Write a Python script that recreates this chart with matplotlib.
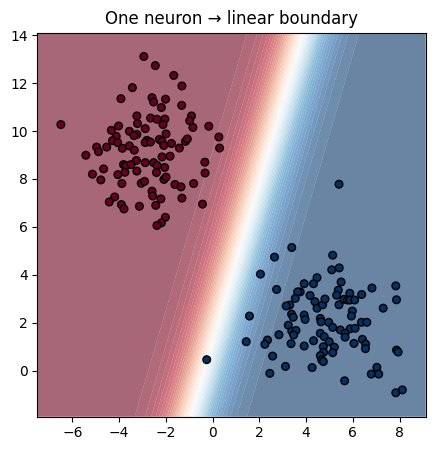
import numpy as np
import matplotlib
matplotlib.use("Agg")
import matplotlib.pyplot as plt

# class 0 (red cluster)
red_x = [-2.94, -2.45, -1.66, -1.31, -3.43, -3.92, -2.59, -2.52, -2.01, -2.19,
         -1.32, -6.49, -3.24, -3.21, -2.65, -2.38, -2.04, -2.12, -0.90, -0.98,
         -0.84, -0.16, -4.02, -4.33, -3.56, -3.24, -2.88, -1.99, -4.12, -4.28,
         -4.06, -3.36, -2.81, -2.88, -2.66, -2.28, -2.16, -2.09, -1.76, -1.16,
         -1.08, -1.42, 0.27, 0.30, -4.96, -4.88, -4.53, -3.86, -3.56, -3.35,
         -5.42, -2.16, -1.82, -3.26, -3.81, -3.71, -3.49, -2.88, -2.52, -2.38,
         -2.05, -4.66, -5.14, -4.78, -4.05, -3.75, -3.24, -2.40, -2.08, -1.99,
         -3.88, -3.05, -2.91, -1.61, -1.35, -0.81, -0.33, -0.32, -2.59, -2.56,
         -2.21, -4.19, -4.42, -3.90, -3.79, -3.13, -2.43, -1.31, -0.43, -2.02,
         -2.19, -2.38]
red_y = [13.11, 12.73, 12.32, 11.88, 11.81, 11.35, 11.39, 11.21, 11.33, 10.98,
         11.07, 10.27, 10.63, 10.31, 10.54, 10.49, 10.50, 10.27, 10.63, 10.43,
         10.15, 10.20, 10.21, 10.03, 9.99, 9.86, 10.10, 9.88, 9.78, 9.60,
         9.52, 9.81, 9.61, 9.52, 9.54, 9.65, 9.57, 9.40, 9.48, 9.57,
         9.67, 9.29, 9.75, 9.29, 9.33, 9.14, 9.33, 9.28, 9.38, 9.20,
         8.99, 8.92, 8.95, 8.77, 8.60, 8.56, 8.60, 8.68, 8.68, 8.57,
         8.48, 8.42, 8.20, 7.96, 8.18, 8.28, 8.33, 8.27, 7.98, 8.08,
         7.81, 7.82, 7.90, 7.77, 7.67, 7.81, 8.70, 8.25, 7.49, 7.29,
         7.17, 7.25, 7.04, 6.93, 6.75, 6.86, 6.90, 7.20, 6.95, 6.40,
         6.17, 6.06]

# class 1 (blue cluster)
blue_x = [5.41, 3.39, 2.65, 2.05, 2.74, 1.58, 1.44, -0.25, 5.14, 5.42,
          5.10, 4.47, 4.32, 3.92, 5.50, 6.82, 7.84, 7.87, 7.30, 3.75,
          3.64, 3.54, 4.17, 3.30, 3.15, 4.38, 4.47, 4.71, 4.81, 5.38,
          5.31, 5.41, 5.62, 5.77, 5.87, 5.88, 6.08, 6.38, 5.98, 5.94,
          3.38, 3.45, 3.92, 3.96, 4.61, 4.64, 4.97, 5.14, 5.47, 5.89,
          6.10, 6.37, 6.60, 3.24, 3.39, 3.57, 3.47, 2.84, 4.61, 4.78,
          5.67, 5.67, 6.05, 6.41, 6.55, 6.54, 3.36, 3.92, 4.32, 4.74,
          4.99, 5.21, 5.14, 4.75, 4.61, 4.67, 4.74, 2.35, 2.24, 2.57,
          3.12, 4.26, 2.45, 5.65, 6.79, 7.03, 7.11, 7.87, 7.94, 7.84,
          8.12]
blue_y = [7.78, 5.14, 4.74, 4.03, 3.39, 2.28, 1.21, 0.46, 4.82, 4.29,
          4.21, 3.88, 3.63, 3.63, 3.70, 3.45, 3.54, 2.96, 2.61, 3.29,
          3.29, 3.02, 3.14, 2.74, 2.70, 2.88, 2.61, 2.75, 2.99, 3.36,
          3.15, 2.75, 2.98, 2.95, 3.23, 2.95, 2.95, 3.18, 2.49, 2.28,
          2.36, 2.23, 2.32, 2.14, 2.18, 2.04, 2.02, 1.81, 1.70, 1.75,
          1.77, 2.02, 2.02, 1.90, 1.65, 1.68, 1.49, 1.50, 1.56, 1.42,
          1.56, 1.40, 1.14, 1.31, 1.11, 0.92, 1.13, 1.03, 1.25, 1.00,
          1.21, 0.98, 0.75, 0.77, 0.63, 0.45, 0.38, 1.28, 1.10, 0.61,
          0.18, 0.13, -0.11, -0.42, -0.14, 0.14, -0.14, 0.86, 0.78, -0.92,
          -0.80]

# single neuron weights (sigmoid output)
w1, w2, bias = 1.62, -0.486, 0.573

X = np.column_stack([red_x + blue_x, red_y + blue_y])
labels = np.array([0] * len(red_x) + [1] * len(blue_x))

x_min, x_max = X[:, 0].min() - 1, X[:, 0].max() + 1
y_min, y_max = X[:, 1].min() - 1, X[:, 1].max() + 1
xx, yy = np.meshgrid(np.linspace(x_min, x_max, 400), np.linspace(y_min, y_max, 400))
zz = 1 / (1 + np.exp(-(w1 * xx + w2 * yy + bias)))

fig = plt.figure(figsize=(4.34, 4.51), dpi=100)
ax = fig.add_axes([0.0864, 0.0760, 0.8945, 0.8519])
ax.contourf(xx, yy, zz, levels=50, cmap="RdBu", alpha=0.6, antialiased=True)
ax.scatter(X[:, 0], X[:, 1], c=labels, cmap="RdBu", edgecolor="k", s=30)
ax.set_xlim(x_min, x_max)
ax.set_ylim(y_min, y_max)
ax.set_title("One neuron → linear boundary")

fig.savefig("out.png", dpi=100)
